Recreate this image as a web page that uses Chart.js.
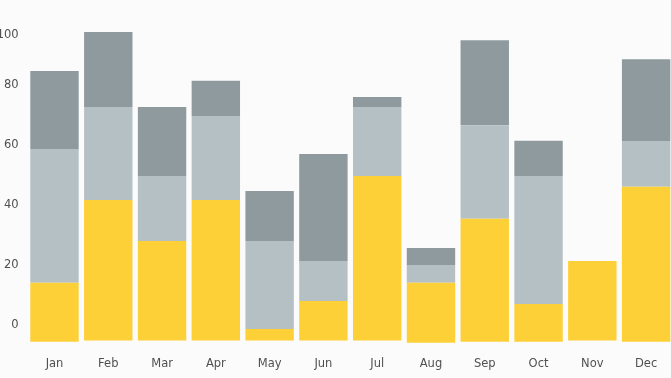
<!DOCTYPE html>
<html>
<head>
<meta charset="utf-8">
<script src="https://cdn.jsdelivr.net/npm/chart.js@4/dist/chart.umd.min.js"></script>
<style>
  html, body { margin: 0; padding: 0; background: #fbfbfb; overflow: hidden; width: 671px; height: 378px; }
  #c { position: absolute; left: -5px; top: 0; }
</style>
</head>
<body>
<canvas id="c" width="681" height="378"></canvas>
<script>
const categories = ['Jan','Feb','Mar','Apr','May','Jun','Jul','Aug','Sep','Oct','Nov','Dec'];
// where each bar starts (below zero)
const baseValues = [-5.6, -5.2, -5.2, -5.2, -5.2, -5.2, -5.2, -5.9, -5.6, -5.6, -5.2, -5.6];
// segment sizes, stacked bottom to top
const seriesYellow = [19.7, 46.9, 33.2, 46.9, 3.9, 13.2, 54.9, 20.0, 41.0, 12.6, 26.5, 51.7];
const seriesLight  = [44.6, 31.0, 21.7, 28.0, 29.3, 13.3, 23.0, 5.9, 31.2, 42.7, 0, 15.2];
const seriesDark   = [26.0, 25.0, 23.0, 11.7, 16.7, 35.7, 3.3, 5.7, 28.3, 11.7, 0, 27.3];
const tickValues = [0, 20, 40, 60, 80, 96.5];
const tickLabels = ['0', '20', '40', '60', '80', '100'];

const seriesList = [seriesYellow, seriesLight, seriesDark];
const colors = ['#fdd037', '#b5c0c5', '#8e9a9d'];
const running = baseValues.slice();
const datasets = seriesList.map((s, k) => {
  const data = s.map((v, i) => {
    const start = running[i];
    running[i] = start + v;
    return v === 0 ? null : [start, running[i]];
  });
  return {
    data,
    backgroundColor: colors[k],
    borderWidth: 0,
    grouped: false,
    barPercentage: 0.9,
    categoryPercentage: 1.0
  };
});

const font = { family: '"DejaVu Sans", sans-serif', size: 11.5 };
new Chart(document.getElementById('c'), {
  type: 'bar',
  data: { labels: categories, datasets },
  options: {
    responsive: false,
    animation: false,
    layout: { padding: { top: 25, right: 3, left: 0, bottom: 0 } },
    plugins: { legend: { display: false }, tooltip: { enabled: false } },
    scales: {
      x: {
        stacked: true,
        grid: { display: false, drawTicks: false },
        border: { display: false },
        ticks: { color: '#505050', font, padding: 11, maxRotation: 0 },
        afterFit: s => { s.height = 32; }
      },
      y: {
        min: -7, max: 100,
        grid: { display: false, drawTicks: false },
        border: { display: false },
        afterBuildTicks: s => { s.ticks = tickValues.map(v => ({ value: v })); },
        ticks: { color: '#505050', font, padding: 9, callback: (v, i) => tickLabels[i] },
        afterFit: s => { s.width = 32.6; }
      }
    }
  }
});
</script>
</body>
</html>
